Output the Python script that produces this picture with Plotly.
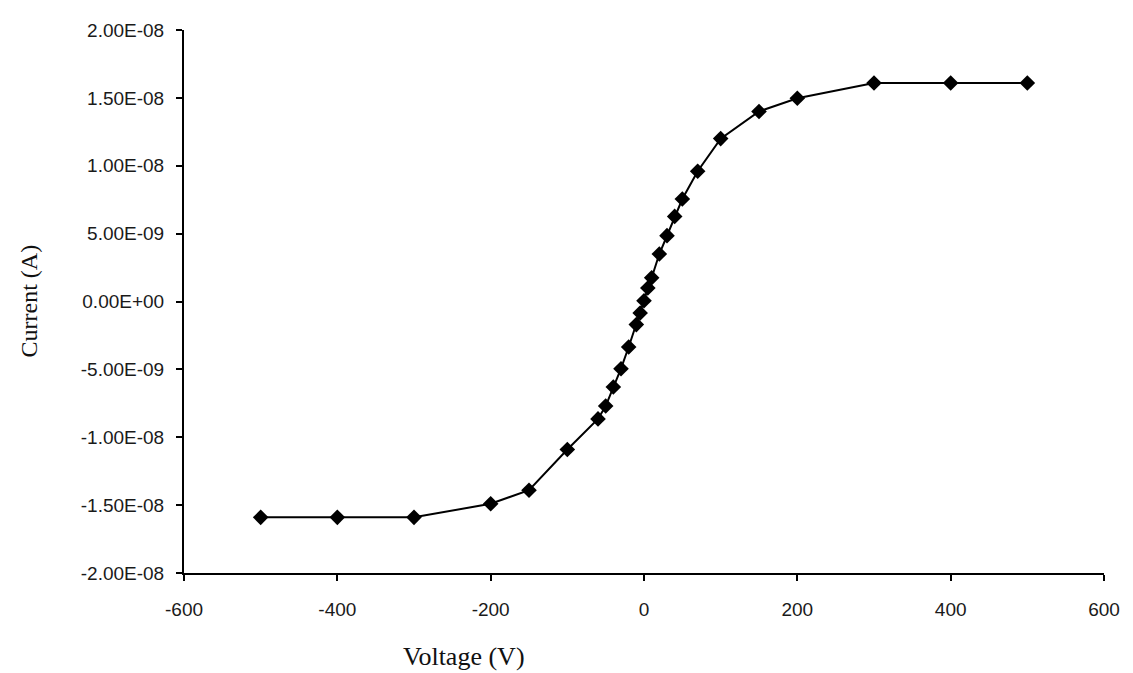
import plotly.graph_objects as go

voltage = [-500, -400, -300, -200, -150, -100, -60, -50, -40, -30, -20, -10, -5, 0,
           5, 10, 20, 30, 40, 50, 70, 100, 150, 200, 300, 400, 500]
current_nA = [-15.9, -15.9, -15.9, -14.9, -13.9, -10.9, -8.65, -7.7, -6.3, -4.95, -3.35,
              -1.7, -0.85, 0.05, 1.0, 1.75, 3.5, 4.85, 6.27, 7.55, 9.6, 12.0, 14.0, 14.97,
              16.1, 16.1, 16.1]
current = [c * 1e-9 for c in current_nA]

x_ticks = [-600, -400, -200, 0, 200, 400, 600]
x_tick_labels = ["-600", "-400", "-200", "0", "200", "400", "600"]
y_ticks = [2e-8, 1.5e-8, 1e-8, 5e-9, 0, -5e-9, -1e-8, -1.5e-8, -2e-8]
y_tick_labels = ["2.00E-08", "1.50E-08", "1.00E-08", "5.00E-09", "0.00E+00",
                 "-5.00E-09", "-1.00E-08", "-1.50E-08", "-2.00E-08"]

W, H = 1125, 665
ML, MR, MT, MB = 176, 29, 13, 100

fig = go.Figure()
fig.add_trace(go.Scatter(
    x=voltage, y=current, mode="lines+markers",
    line=dict(color="black", width=2),
    marker=dict(symbol="diamond", size=12, color="black"),
    showlegend=False,
))

plot_w = W - ML - MR
plot_h = H - MT - MB
serif = "Liberation Serif, Times New Roman, serif"

fig.update_layout(
    width=W, height=H,
    margin=dict(l=ML, r=MR, t=MT, b=MB),
    paper_bgcolor="white", plot_bgcolor="white",
    font=dict(family="Liberation Sans, Arial, sans-serif", size=19, color="#1a1a1a"),
    xaxis=dict(
        range=[-600, 600], tickvals=x_ticks, ticktext=x_tick_labels,
        showgrid=False, zeroline=False,
        showline=True, linecolor="black", linewidth=2,
        ticks="outside", ticklen=6, tickcolor="black", tickwidth=1.5,
        ticklabelstandoff=12,
    ),
    yaxis=dict(
        range=[-2e-8, 2e-8], tickvals=y_ticks, ticktext=y_tick_labels,
        showgrid=False, zeroline=False,
        showline=True, linecolor="black", linewidth=2,
        ticks="outside", ticklen=6, tickcolor="black", tickwidth=1.5,
        ticklabelstandoff=8,
    ),
    annotations=[
        dict(text="Voltage (V)", x=(456 - ML) / plot_w, y=(565 - 650) / plot_h,
             xref="paper", yref="paper", showarrow=False,
             font=dict(family=serif, size=26, color="#111"),
             xanchor="center", yanchor="middle"),
        dict(text="Current (A)", x=0, y=0.5, xref="paper", yref="paper",
             showarrow=False, textangle=-90, xshift=-156,
             font=dict(family=serif, size=24, color="#111"),
             xanchor="center", yanchor="middle"),
    ],
)

fig.write_html("out.html")
